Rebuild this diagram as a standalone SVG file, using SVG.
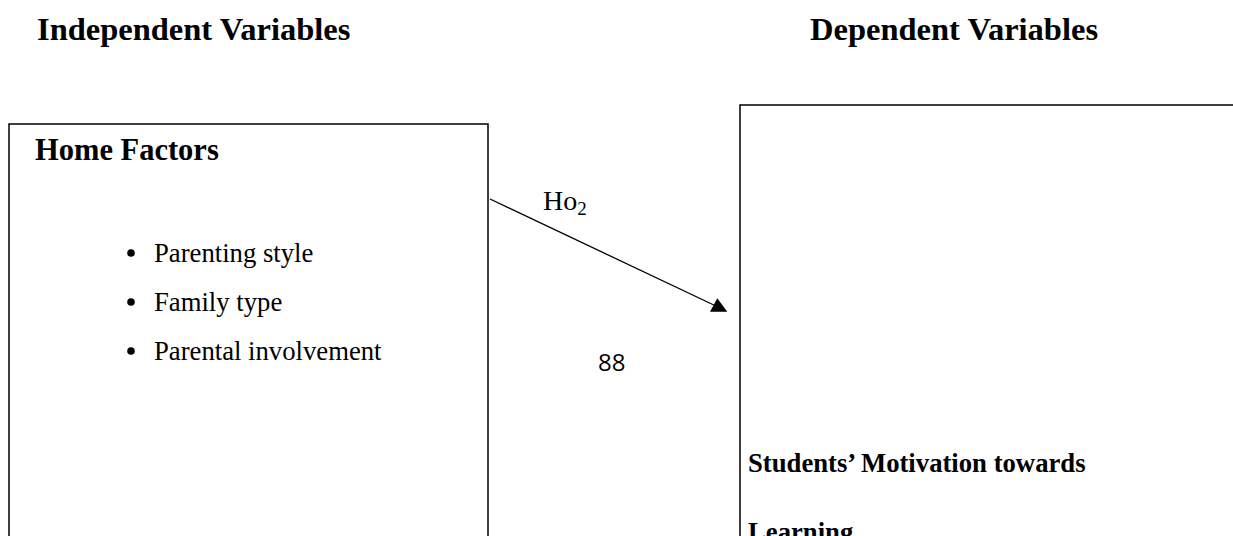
<svg xmlns="http://www.w3.org/2000/svg" width="1233" height="536" viewBox="0 0 1233 536">
<style>
.t{font-family:"Liberation Serif","Times New Roman",serif;font-size:26.7px;fill:#000}
.b{font-weight:bold}
.h{font-size:32.5px}
.box{fill:none;stroke:#000;stroke-width:1.5}
.c{stroke:#000;stroke-width:1.3;fill:none}
</style>
<rect width="1233" height="536" fill="#fff"/>
<text class="t b h" x="37" y="40">Independent Variables</text>
<text class="t b h" x="810" y="40">Dependent Variables</text>
<g id="home-factors">
<path class="box" d="M9,560 V124 H488 V560"/>
<text class="t b" x="35" y="160" style="font-size:30.5px">Home Factors</text>
<circle cx="131" cy="253" r="3.8"/>
<text class="t" x="154" y="262">Parenting style</text>
<circle cx="131" cy="302" r="3.8"/>
<text class="t" x="154" y="311">Family type</text>
<circle cx="131" cy="351" r="3.8"/>
<text class="t" x="154" y="360">Parental involvement</text>
</g>
<g id="motivation">
<path class="box" d="M740,560 V105 H1240"/>
<text class="t b" x="748" y="472">Students’ Motivation towards</text>
<text class="t b" x="748" y="541">Learning</text>
</g>
<g id="connectors">
<line class="c" x1="490" y1="199" x2="718" y2="307"/>
<polygon points="710,311.7 717.3,298.3 727.3,311.7"/>
<text class="t" x="543" y="210" style="font-size:28px">Ho<tspan style="font-size:19px" dy="5">2</tspan></text>
</g>
<text x="598" y="371" font-family="'Open Sans','Liberation Sans',sans-serif" font-size="24" fill="#000">88</text>
</svg>
